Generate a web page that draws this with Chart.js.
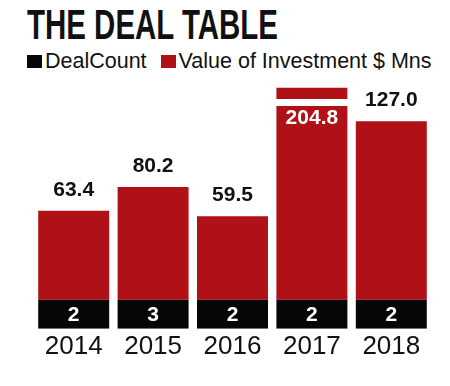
<!DOCTYPE html>
<html>
<head>
<meta charset="utf-8">
<script src="https://cdn.jsdelivr.net/npm/chart.js@4"></script>
<style>
  html, body { margin: 0; padding: 0; background: #fff; }
  #wrap { position: relative; width: 450px; height: 386px; overflow: hidden; }
  #title { position: absolute; left: 27px; top: 4px; font: bold 42px "Liberation Sans Narrow", "Liberation Sans", sans-serif;
           line-height: 1; color: #111; white-space: nowrap; transform-origin: 0 0; }
  #legend { position: absolute; left: 27px; top: 51px; display: flex; align-items: center;
            font: 21.5px "Liberation Sans", sans-serif; line-height: 1; color: #111; white-space: nowrap; }
  #legend span.box { display: inline-block; width: 15px; height: 13px; margin-right: 3px; }
  #legend span.item { display: inline-flex; align-items: center; margin-right: 14px; }
  #chartBox { position: absolute; left: 0; top: 75px; width: 450px; height: 311px; }
</style>
</head>
<body>
<div id="wrap">
  <div id="title">THE DEAL TABLE</div>
  <div id="legend"></div>
  <div id="chartBox"><canvas id="mycanvas"></canvas></div>
</div>
<script>
var years = ['2014', '2015', '2016', '2017', '2018'];
var dealCount = [2, 3, 2, 2, 2];
var investment = [63.4, 80.2, 59.5, 204.8, 127.0];
var seriesNames = ['DealCount', 'Value of Investment $ Mns'];
var seriesColors = ['#060606', '#b01116'];

// look of the bars (axis units, not data)
var BAND = 20.7;      // height of the black count strip
var CAP = 138;        // tallest red bar before it is broken
var GAP = 5;          // white break
var TOP_PIECE = 7.9;  // red stub above the break

// title squeezed to the width of the condensed original
var title = document.getElementById('title');
var tw = title.getBoundingClientRect().width;
title.style.transform = 'scaleX(' + (251 / tw) + ')';

var legend = document.getElementById('legend');
for (var s = 0; s < seriesNames.length; s++) {
    var item = document.createElement('span');
    item.className = 'item';
    item.innerHTML = '<span class="box" style="background:' + seriesColors[s] + '"></span>' + seriesNames[s];
    legend.appendChild(item);
}

var labelPlugin = {
    id: 'barLabels',
    afterDatasetsDraw: function(chart) {
        var ctx = chart.ctx;
        var band = chart.getDatasetMeta(0).data;
        var val = chart.getDatasetMeta(1).data;
        ctx.save();
        ctx.textAlign = 'center';
        for (var i = 0; i < years.length; i++) {
            ctx.font = 'bold 21px "Liberation Sans", sans-serif';
            ctx.fillStyle = '#fff';
            ctx.textBaseline = 'middle';
            ctx.fillText(String(dealCount[i]), band[i].x, (band[i].y + band[i].base) / 2 + 1);

            ctx.font = 'bold 21px "Liberation Sans", sans-serif';
            if (investment[i] > CAP) {
                ctx.fillStyle = '#fff';
                ctx.textBaseline = 'top';
                ctx.fillText(investment[i].toFixed(1), val[i].x, val[i].y + 2);
            } else {
                ctx.fillStyle = '#111';
                ctx.textBaseline = 'alphabetic';
                ctx.fillText(investment[i].toFixed(1), val[i].x, val[i].y - 15);
            }
        }
        ctx.restore();
    }
};

var chartdata = {
    labels: years,
    datasets: [
        {
            label: seriesNames[0],
            backgroundColor: seriesColors[0],
            data: years.map(function() { return BAND; })
        },
        {
            label: seriesNames[1],
            backgroundColor: seriesColors[1],
            data: investment.map(function(v) { return Math.min(v, CAP); })
        },
        {
            label: 'break',
            backgroundColor: '#ffffff',
            data: investment.map(function(v) { return v > CAP ? GAP : null; })
        },
        {
            label: 'stub',
            backgroundColor: seriesColors[1],
            data: investment.map(function(v) { return v > CAP ? TOP_PIECE : null; })
        }
    ]
};

var ctx = document.getElementById('mycanvas');
new Chart(ctx, {
    type: 'bar',
    data: chartdata,
    plugins: [labelPlugin],
    options: {
        responsive: true,
        maintainAspectRatio: false,
        animation: false,
        layout: { padding: { left: 34, right: 19, top: 0, bottom: 22 } },
        datasets: { bar: { categoryPercentage: 1, barPercentage: 0.894, borderWidth: 0 } },
        plugins: { legend: { display: false }, tooltip: { enabled: false } },
        scales: {
            x: {
                stacked: true,
                grid: { display: false, drawTicks: false },
                border: { display: false },
                ticks: { color: '#111', padding: 2, font: { family: '"Liberation Sans", sans-serif', size: 26 } }
            },
            y: {
                stacked: true,
                display: false,
                min: 0,
                max: 180.7
            }
        }
    }
});
</script>
</body>
</html>
